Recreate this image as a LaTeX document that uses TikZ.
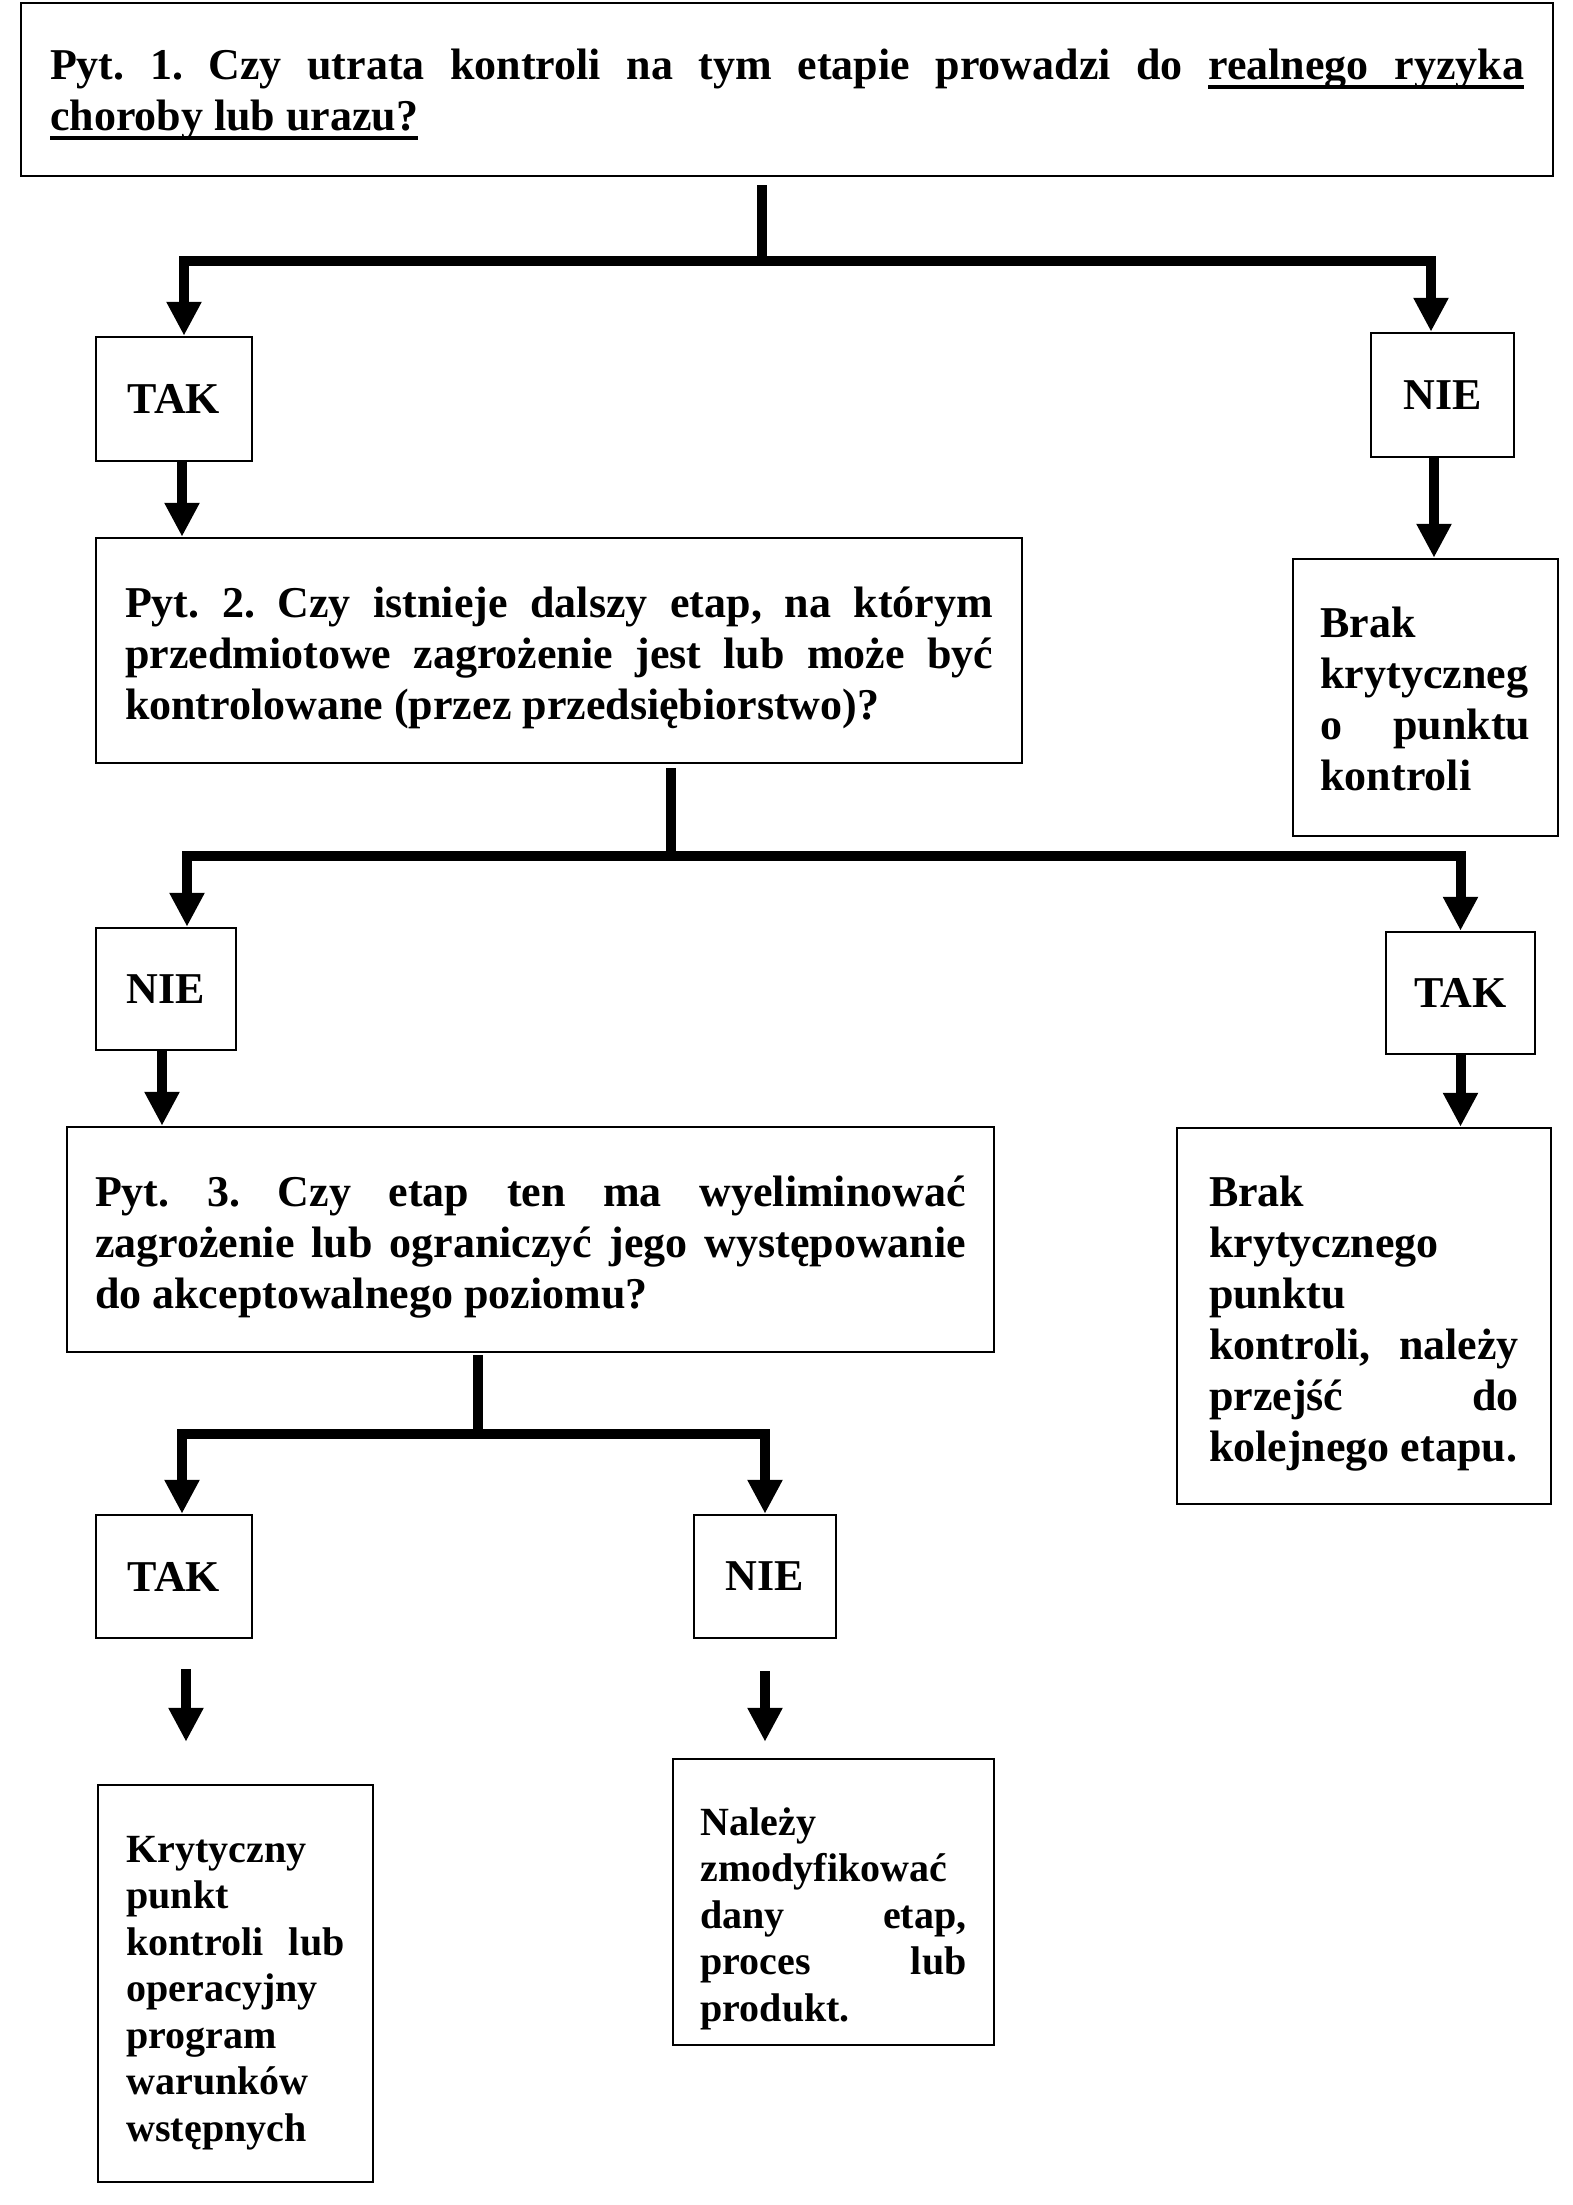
\documentclass[tikz,border=0pt]{standalone}
\usepackage{fontspec}
\setmainfont{Liberation Serif}
\usetikzlibrary{arrows.meta}
\newcommand\ulw[1]{\setbox0\hbox{#1}\rlap{\vrule height -5pt depth 9pt width \wd0}\box0}
\newcommand\uls{\leaders\hrule height -5pt depth 9pt\hskip\fontdimen2\font plus\fontdimen3\font minus\fontdimen4\font\relax}
\frenchspacing
\tolerance=10000
\hyphenpenalty=10000

\begin{document}
\begin{tikzpicture}[x=1pt,y=-1pt,
    box/.style={draw,line width=2.5pt,inner sep=0pt,align=justify,
                font=\fontsize{44}{51}\selectfont\bfseries},
    small/.style={font=\fontsize{40}{46.5}\selectfont\bfseries},
    lift/.style={text height=0pt,text depth=#1},
    ln/.style={line width=10pt},
    arr/.style={ln,-{Triangle[length=34pt,width=33pt]}}
  ]
    \fill[white] (0,0) rectangle (1573,2205);
    % questions and answers
    \node[box,lift=19pt,minimum width=1532pt,minimum height=173pt,text width=1474pt] (Q1) at (787,89.5)
      {Pyt. 1. Czy utrata kontroli na tym etapie prowadzi do \ulw{realnego}\uls\ulw{ryzyka}\linebreak \ulw{choroby}\uls\ulw{lub}\uls\ulw{urazu?}};
    \node[box,minimum width=156pt,minimum height=124pt,align=center] (T1) at (174,399) {TAK};
    \node[box,minimum width=143pt,minimum height=124pt,align=center] (N1) at (1442.5,395) {NIE};
    \node[box,lift=66pt,minimum width=926pt,minimum height=225pt,text width=868pt] (Q2) at (559,650.5)
      {Pyt. 2. Czy istnieje dalszy etap, na którym\linebreak przedmiotowe zagrożenie jest lub może być\linebreak kontrolowane (przez przedsiębiorstwo)?};
    \node[box,lift=120pt,minimum width=265pt,minimum height=277pt,text width=210pt] (B1) at (1425.5,697.5)
      {Brak\\ krytyczneg\\o punktu\linebreak kontroli};
    \node[box,minimum width=140pt,minimum height=122pt,align=center] (N2) at (166,989) {NIE};
    \node[box,minimum width=149pt,minimum height=122pt,align=center] (T2) at (1460.5,993) {TAK};
    \node[box,lift=66pt,minimum width=927pt,minimum height=225pt,text width=871pt] (Q3) at (530.5,1239.5)
      {Pyt. 3. Czy etap ten ma wyeliminować\linebreak zagrożenie lub ograniczyć jego występowanie\linebreak do akceptowalnego poziomu?};
    \node[box,lift=219pt,minimum width=374pt,minimum height=376pt,text width=310pt] (B2) at (1364,1316)
      {Brak\\ krytycznego\\ punktu\\ kontroli, należy\linebreak przejść do\linebreak kolejnego etapu.};
    \node[box,minimum width=156pt,minimum height=123pt,align=center] (T3) at (174,1576.5) {TAK};
    \node[box,minimum width=142pt,minimum height=123pt,align=center] (N3) at (765,1576.5) {NIE};
    \node[box,small,lift=243pt,minimum width=275pt,minimum height=397pt,text width=218pt] (K) at (235.5,1983.5)
      {Krytyczny\\ punkt\\ kontroli lub\linebreak operacyjny\\ program\\ warunków\\ wstępnych};
    \node[box,small,lift=134pt,minimum width=321pt,minimum height=286pt,text width=266pt] (Z) at (833.5,1902)
      {Należy\\ zmodyfikować\\ dany etap,\linebreak proces lub\linebreak produkt.};
    % branch points
    \coordinate (j1) at (762,261);
    \coordinate (j2) at (671,856);
    \coordinate (j3) at (478,1434);
    % connectors
    \draw[ln,shorten <=8pt] (Q1.south -| j1) -- (j1);
    \draw[arr] (j1) -| ([xshift=10pt]T1.north);
    \draw[arr] (j1) -| ([xshift=-11.5pt]N1.north);
    \draw[arr] ([xshift=8pt]T1.south) -- ([xshift=8pt]T1.south |- Q2.north);
    \draw[arr] ([xshift=-8.5pt]N1.south) -- ([xshift=-8.5pt]N1.south |- B1.north);
    \draw[ln,shorten <=4pt] (Q2.south -| j2) -- (j2);
    \draw[arr] (j2) -| ([xshift=21pt]N2.north);
    \draw[arr] (j2) -| (T2.north);
    \draw[arr] ([xshift=-4pt]N2.south) -- ([xshift=-4pt]N2.south |- Q3.north);
    \draw[arr] (T2.south) -- (T2.south |- B2.north);
    \draw[ln,shorten <=2pt] (Q3.south -| j3) -- (j3);
    \draw[arr] (j3) -| ([xshift=8pt]T3.north);
    \draw[arr] (j3) -| (N3.north);
    \draw[arr,shorten <=30pt,shorten >=42pt] ([xshift=12pt]T3.south) -- ([xshift=12pt]T3.south |- K.north);
    \draw[arr,shorten <=32pt,shorten >=16pt] (N3.south) -- (N3.south |- Z.north);
  \end{tikzpicture}
\end{document}
